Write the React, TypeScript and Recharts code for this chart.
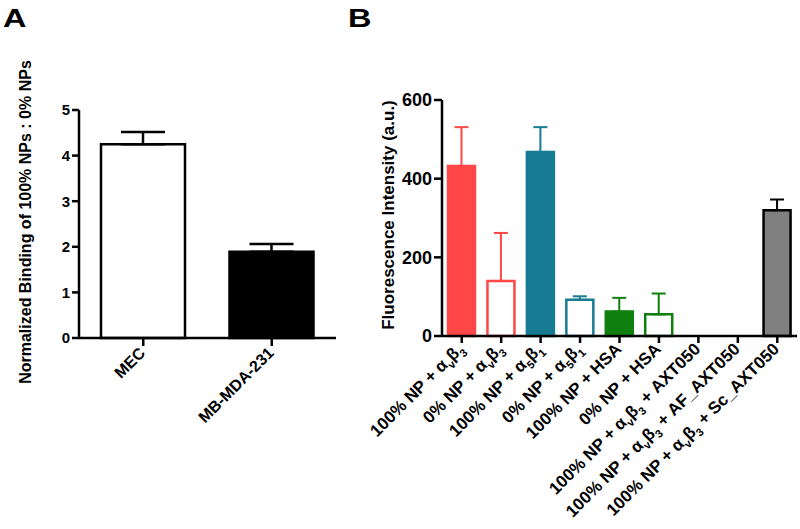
import React from 'react';
import { BarChart, Bar, XAxis, YAxis, ErrorBar, Cell } from 'recharts';

// ---------- data ----------
const categoriesA = ['MEC', 'MB-MDA-231'];
const valuesA = [4.25, 1.89];
const errorsA = [0.27, 0.17];
const ticksA = [0, 1, 2, 3, 4, 5];

// subscripts written in {braces}
const categoriesB = [
  '100% NP + α{v}β{3}',
  '0% NP + α{v}β{3}',
  '100% NP + α{5}β{1}',
  '0% NP + α{5}β{1}',
  '100% NP + HSA',
  '0% NP + HSA',
  '100% NP + α{v}β{3} + AXT050',
  '100% NP + α{v}β{3} + AF_AXT050',
  '100% NP + α{v}β{3} + Sc_AXT050',
];
const valuesB: (number | null)[] = [432, 140, 468, 92, 62, 55, null, null, 320];
const errorsB: (number | null)[] = [99, 122, 63, 9, 35, 53, null, null, 27];
const ticksB = [0, 200, 400, 600];

// ---------- styles ----------
const FONT = '"Liberation Sans", Arial, Helvetica, sans-serif';
const fillA = ['#ffffff', '#000000'];
const groupB = ['red', 'red', 'teal', 'teal', 'green', 'green', 'gray', 'gray', 'gray'];
const filledB = [true, false, true, false, true, false, true, true, true];
const groupColor: Record<string, string> = {
  red: '#FF4747',
  teal: '#177C93',
  green: '#0F800F',
  gray: '#000000',
};
const grayFill = '#808080';

const dataA = categoriesA.map((name, i) => ({ name, value: valuesA[i], err: [0, errorsA[i]] }));
const dataB = categoriesB.map((name, i) => {
  const row: any = { name, value: valuesB[i] };
  if (errorsB[i] != null) row['err_' + groupB[i]] = [0, errorsB[i]];
  return row;
});

const parseLabel = (s: string) => {
  const parts = s.split(/(\{[^}]*\})/).filter((p) => p.length > 0);
  const out: React.ReactNode[] = [];
  let shifted = false;
  parts.forEach((p, k) => {
    if (p.startsWith('{')) {
      out.push(
        <tspan key={k} dy={shifted ? 0 : 5} fontSize={11}>
          {p.slice(1, -1)}
        </tspan>
      );
      shifted = true;
    } else {
      out.push(
        <tspan key={k} dy={shifted ? -5 : 0}>
          {p}
        </tspan>
      );
      shifted = false;
    }
  });
  return out;
};

const TickA = (props: any) => {
  const { x, y, payload } = props;
  return (
    <g transform={`translate(${x + 3},${y + 6})`}>
      <text
        textAnchor="end"
        transform="rotate(-45)"
        fontSize={16}
        fontWeight="bold"
        fontFamily={FONT}
        fill="#000"
      >
        {payload.value}
      </text>
    </g>
  );
};

const TickB = (props: any) => {
  const { x, y, payload } = props;
  return (
    <g transform={`translate(${x + 3},${y + 5})`}>
      <text
        textAnchor="end"
        transform="rotate(-45)"
        fontSize={17}
        fontWeight="bold"
        fontFamily={FONT}
        fill="#000"
      >
        {parseLabel(String(payload.value))}
      </text>
    </g>
  );
};

const axisStyle = { stroke: '#000', strokeWidth: 2.5 };

export default function App() {
  return (
    <div
      style={{
        position: 'absolute',
        left: 0,
        top: 0,
        width: 800,
        height: 529,
        background: '#fff',
        fontFamily: FONT,
      }}
    >
      <div style={{ position: 'absolute', left: 0, top: 0 }}>
        <BarChart width={380} height={529} data={dataA} margin={{ top: 110, right: 44, bottom: 0, left: 0 }}>
          <XAxis
            dataKey="name"
            height={191}
            interval={0}
            tick={<TickA />}
            tickSize={8}
            tickLine={axisStyle}
            axisLine={axisStyle}
          />
          <YAxis
            width={79}
            domain={[0, 5]}
            ticks={ticksA}
            interval={0}
            tickSize={7}
            tickMargin={2}
            tick={{ fontSize: 15, fontWeight: 'bold', fill: '#000', fontFamily: FONT }}
            tickLine={axisStyle}
            axisLine={axisStyle}
          />
          <Bar dataKey="value" barSize={84} isAnimationActive={false} strokeWidth={2.5} stroke="#000">
            {dataA.map((d, i) => (
              <Cell key={i} fill={fillA[i]} stroke="#000" />
            ))}
            <ErrorBar dataKey="err" direction="y" width={22} stroke="#000" strokeWidth={2.5} isAnimationActive={false} />
          </Bar>
        </BarChart>
      </div>

      <div style={{ position: 'absolute', left: 330, top: 0 }}>
        <BarChart width={470} height={529} data={dataB} margin={{ top: 100, right: 3, bottom: 0, left: 0 }}>
          <XAxis
            dataKey="name"
            height={193}
            interval={0}
            tick={<TickB />}
            tickSize={7}
            tickLine={axisStyle}
            axisLine={axisStyle}
          />
          <YAxis
            width={112}
            domain={[0, 600]}
            ticks={ticksB}
            interval={0}
            tickSize={8}
            tickMargin={2}
            tick={{ fontSize: 18, fontWeight: 'bold', fill: '#000', fontFamily: FONT }}
            tickLine={axisStyle}
            axisLine={axisStyle}
          />
          <Bar dataKey="value" barSize={27} isAnimationActive={false} strokeWidth={2.5}>
            {dataB.map((d, i) => {
              const c = groupColor[groupB[i]];
              const isNull = valuesB[i] == null;
              const fill = isNull ? 'none' : groupB[i] === 'gray' ? grayFill : filledB[i] ? c : '#ffffff';
              return <Cell key={i} fill={fill} stroke={isNull ? 'none' : c} />;
            })}
            {['red', 'teal', 'green', 'gray'].map((g) => (
              <ErrorBar
                key={g}
                dataKey={'err_' + g}
                direction="y"
                width={7}
                stroke={groupColor[g]}
                strokeWidth={2}
                isAnimationActive={false}
              />
            ))}
          </Bar>
        </BarChart>
      </div>

      <svg
        width={800}
        height={529}
        style={{ position: 'absolute', left: 0, top: 0, pointerEvents: 'none' }}
      >
        <text transform="translate(3,27) scale(1.25,1)" fontSize={26} fontWeight="bold" fontFamily={FONT} fill="#000">
          A
        </text>
        <text transform="translate(348,27) scale(1.25,1)" fontSize={26} fontWeight="bold" fontFamily={FONT} fill="#000">
          B
        </text>
        <text
          transform="translate(31,222) rotate(-90)"
          textAnchor="middle"
          fontSize={16}
          fontWeight="bold"
          fontFamily={FONT}
          fill="#000"
        >
          Normalized Binding of 100% NPs : 0% NPs
        </text>
        <text
          transform="translate(394,215) rotate(-90)"
          textAnchor="middle"
          fontSize={17}
          fontWeight="bold"
          fontFamily={FONT}
          fill="#000"
        >
          Fluorescence Intensity (a.u.)
        </text>
      </svg>
    </div>
  );
}
